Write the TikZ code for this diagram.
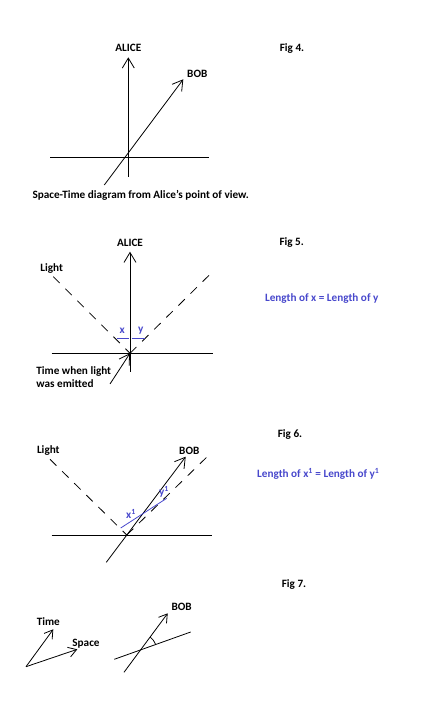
\documentclass[tikz,border=0pt]{standalone}
\usepackage{fontspec}
\setmainfont{Carlito}
\usetikzlibrary{arrows.meta, calc, positioning}
\definecolor{pen}{RGB}{72,72,204}

\begin{document}
\begin{tikzpicture}[x=1pt, y=1pt, line width=0.8pt,
  >={Straight Barb[length=10pt, width=12pt]},
  lbl/.style={font=\bfseries\fontsize{11.2}{13.3}\selectfont, inner sep=0pt},
  bluelbl/.style={lbl, text=pen},
  lightline/.style={dash pattern=on 9pt off 8pt},
  simline/.style={draw=pen, line width=0.8pt},
  small/.style={-{Straight Barb[length=8pt, width=10pt]}}]
\useasboundingbox (0,0) rectangle (446,703);
%Fig 4
\node[lbl] (fig4) at (292,654) {Fig 4.};
\node[lbl] (alice4) at (128.3,654.7) {ALICE};
\node[lbl] (bob4) at (197.3,629.3) {BOB};
\coordinate (a4b) at (128.3,526.3); \coordinate (a4t) at (128.3,645.7);
\coordinate (x4l) at (50,545.3); \coordinate (x4r) at (209,545.3);
\coordinate (b4b) at (104.3,518); \coordinate (b4t) at (183.3,623.7);
\draw [->] (a4b)--(a4t); \draw (x4l)--(x4r); \draw [->] (b4b)--(b4t);
\node[lbl] (cap4) at (140.7,507.3) {Space-Time diagram from Alice's point of view.};
%Fig 5
\node[lbl] (fig5) at (291.7,460.7) {Fig 5.};
\node[lbl] (alice5) at (130,459.7) {ALICE};
\node[lbl] (light5) at (51.7,434.3) {Light};
\coordinate (o5) at (130,349.7);
\coordinate (a5b) at (130,331.3); \coordinate (a5t) at (130,451.3);
\coordinate (x5l) at (51.7,349.7); \coordinate (x5r) at (212.7,349.7);
\coordinate (l5l) at (53.3,426.3); \coordinate (l5r) at (212.7,431.3);
\draw [->] (a5b)--(a5t); \draw (x5l)--(x5r);
\draw [lightline] (l5l)--(o5); \draw [lightline] (o5)--(l5r);
\coordinate (xs) at (116.7,364.7); \coordinate (xe) at (129,364.7);
\coordinate (ys) at (131.7,364.7); \coordinate (ye) at (145,364.7);
\draw [simline] (xs)--(xe); \draw [simline] (ys)--(ye);
\node[bluelbl] (xlab) at (122.3,372.3) {x};
\node[bluelbl] (ylab) at (140.7,372.3) {y};
\node[lbl, align=left, anchor=west] (emit) at (36,325.7) {Time when light\\was emitted};
\coordinate (e5) at (110,319);
\draw [->] (e5)--(o5);
\node[bluelbl] (len5) at (321.7,404) {Length of x = Length of y};
%Fig 6
\node[lbl] (fig6) at (290,268.7) {Fig 6.};
\node[lbl] (light6) at (48.3,252.3) {Light};
\node[lbl] (bob6) at (189.3,252.3) {BOB};
\coordinate (o6) at (126.8,168);
\coordinate (x6l) at (51.7,168); \coordinate (x6r) at (212,168);
\coordinate (b6b) at (106.3,140.7); \coordinate (b6t) at (185.7,246.3);
\coordinate (l6l) at (50,243.7); \coordinate (l6r) at (210,249);
\draw (x6l)--(x6r); \draw [->] (b6b)--(b6t);
\draw [lightline] (l6l)--(o6); \draw [lightline] (o6)--(l6r);
\coordinate (s6l) at (120.7,175); \coordinate (s6r) at (166.7,204.7);
\draw [simline] (s6l)--(s6r);
\node[bluelbl] (x1lab) at (131,188.7) {x\textsuperscript{1}};
\node[bluelbl] (y1lab) at (164,211.3) {y\textsuperscript{1}};
\node[bluelbl] (len6) at (318.3,229) {Length of x\textsuperscript{1} = Length of y\textsuperscript{1}};
%Fig 7
\node[lbl] (fig7) at (294,118) {Fig 7.};
\node[lbl] (time7) at (48.3,81.3) {Time};
\node[lbl] (space7) at (86,59) {Space};
\node[lbl] (bob7) at (181.7,96.3) {BOB};
\coordinate (o7) at (26,36.3); \coordinate (t7) at (53.3,73.7); \coordinate (s7) at (77.3,53.7);
\draw [small] (o7)--(t7); \draw [small] (o7)--(s7);
\coordinate (b7b) at (124,30.7); \coordinate (b7t) at (167.7,89.7);
\coordinate (r7l) at (114.3,43.7); \coordinate (r7r) at (190.7,71);
\draw [small] (b7b)--(b7t); \draw (r7l)--(r7r);
\coordinate (c7) at (140.6,53.1);
\draw ($(c7)+(19.7:16)$) arc[start angle=19.7, end angle=53.5, radius=16];
\end{tikzpicture}
\end{document}
